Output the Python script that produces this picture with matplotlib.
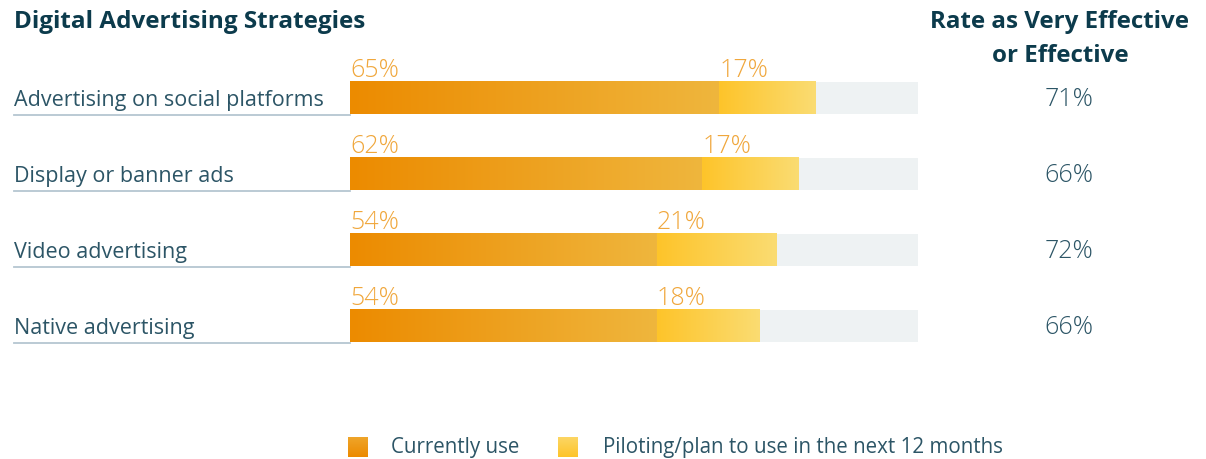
import matplotlib.pyplot as plt
import numpy as np
from matplotlib.colors import LinearSegmentedColormap
from matplotlib.transforms import blended_transform_factory

# data
strategies = ['Advertising on social platforms', 'Display or banner ads',
              'Video advertising', 'Native advertising']
current_use = [65, 62, 54, 54]
piloting = [17, 17, 21, 18]
effective = [71, 66, 72, 66]

plt.rcParams['font.family'] = ['Open Sans', 'DejaVu Sans']

dark = '#0c3b4c'
label_col = '#2c5566'
pct_col = '#f0a73c'
orange_cmap = LinearSegmentedColormap.from_list('o', ['#ec8b00', '#efb63d'])
yellow_cmap = LinearSegmentedColormap.from_list('y', ['#fec42a', '#fadc72'])
grad = np.linspace(0, 1, 256).reshape(1, -1)

fig = plt.figure(figsize=(12.06, 4.59), dpi=100)
W, H = 1206, 459
ax = fig.add_axes([350 / W, 1 - 364 / H, 568 / W, 304 / H])
ax.set_xlim(0, 100)
ax.set_ylim(3.5, -0.5)
ax.axis('off')

bh = 0.43
bt = blended_transform_factory(fig.transFigure, ax.transData)
for i, name in enumerate(strategies):
    c, p = current_use[i], piloting[i]
    top, bot = i - bh / 2, i + bh / 2
    ax.barh(i, 100, height=bh, color='#eef2f3', zorder=1)
    ax.imshow(grad, cmap=orange_cmap, aspect='auto', extent=(0, c, bot, top), zorder=2)
    ax.imshow(grad, cmap=yellow_cmap, aspect='auto', extent=(c, c + p, bot, top), zorder=2)
    ax.text(0, top - 0.06, f'{c}%', color=pct_col, fontsize=18, fontweight='light',
            va='baseline', ha='left')
    ax.text(c, top - 0.06, f'{p}%', color=pct_col, fontsize=18, fontweight='light',
            va='baseline', ha='left')
    ax.text(14 / W, i + 0.03, name, transform=bt, color=label_col, fontsize=15.5,
            va='center', ha='left')
    ax.plot([14 / W, 350 / W], [bot + 0.01, bot + 0.01], transform=bt, color='#b5c6d1',
            lw=1.3, clip_on=False, zorder=0)
    ax.text(1069 / W, i + 0.02, f'{effective[i]}%', transform=bt, color=label_col, fontsize=18,
            fontweight='light', va='center', ha='center')
ax.set_xlim(0, 100)
ax.set_ylim(3.5, -0.5)

fig.text(14 / W, 1 - 22 / H, 'Digital Advertising Strategies', color=dark, fontsize=17.5,
         fontweight='bold', va='center', ha='left')
fig.text(1060 / W, 1 - 39 / H, 'Rate as Very Effective\nor Effective', color=dark, fontsize=17.4,
         fontweight='bold', va='center', ha='center', linespacing=1.6)

# legend
lax = fig.add_axes([0, 0, 1, 1], facecolor='none')
lax.set_xlim(0, W)
lax.set_ylim(H, 0)
lax.axis('off')
vgrad = np.linspace(0, 1, 64).reshape(-1, 1)
lax.imshow(vgrad, cmap=LinearSegmentedColormap.from_list('lo', ['#efa52a', '#ec8a00']),
           aspect='auto', extent=(348, 368, 457, 437))
lax.imshow(vgrad, cmap=LinearSegmentedColormap.from_list('ly', ['#fcd664', '#fec42a']),
           aspect='auto', extent=(558, 578, 457, 437))
lax.text(391, 447, 'Currently use', color=label_col, fontsize=14.8, va='center')
lax.text(603, 447, 'Piloting/plan to use in the next 12 months', color=label_col,
         fontsize=14.8, va='center')
lax.set_xlim(0, W)
lax.set_ylim(H, 0)

fig.savefig('out.png', dpi=100)
